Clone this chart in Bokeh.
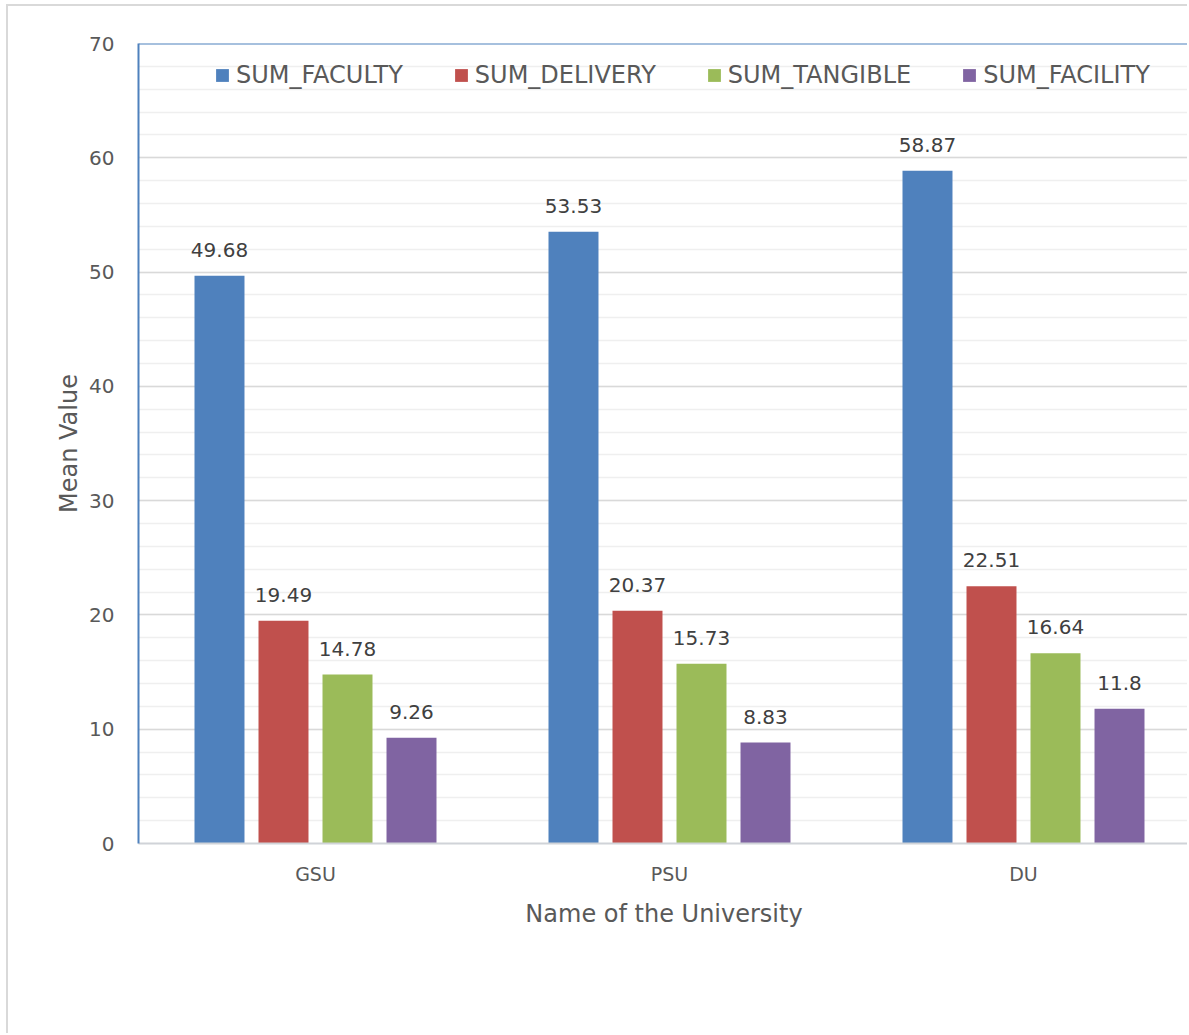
import numpy as np
from bokeh.plotting import figure
from bokeh.models import (Range1d, FixedTicker, SingleIntervalTicker, Span, Legend,
                          LegendItem, ColumnDataSource)
from bokeh.embed import file_html
from bokeh.resources import INLINE

universities = ["GSU", "PSU", "DU"]
series_names = ["SUM_FACULTY", "SUM_DELIVERY", "SUM_TANGIBLE", "SUM_FACILITY"]
sum_faculty = [49.68, 53.53, 58.87]
sum_delivery = [19.49, 20.37, 22.51]
sum_tangible = [14.78, 15.73, 16.64]
sum_facility = [9.26, 8.83, 11.8]
series_values = [sum_faculty, sum_delivery, sum_tangible, sum_facility]
colors = ["#4f81bd", "#c0504d", "#9bbb59", "#8064a2"]

FONT = "DejaVu Sans"
TXT = "#595959"

W, H = 1181, 1029
p = figure(width=W, height=H, output_backend="svg", toolbar_location=None,
           x_range=Range1d(0, 1051 / 354), y_range=Range1d(0, 70))
p.min_border = 0
p.min_border_left = 130
p.min_border_top = 37
p.min_border_bottom = 192
p.min_border_right = 0
p.outline_line_color = None
p.background_fill_color = "white"
p.border_fill_color = "white"
p.styles = {"border-top": "2px solid #d9d9d9", "border-left": "2px solid #d9d9d9",
            "margin-left": "6px", "margin-top": "4px"}

centers = np.arange(len(universities)) + 0.5
offsets = [-0.2712, -0.0904, 0.0904, 0.2712]
bar_w = 0.1412

items = []
for name, vals, col, off in zip(series_names, series_values, colors, offsets):
    src = ColumnDataSource(dict(x=centers + off, top=vals,
                                lab=[("%g" % v) for v in vals]))
    r = p.vbar(x="x", top="top", width=bar_w, source=src, fill_color=col,
               line_color=None)
    p.text(x="x", y="top", text="lab", source=src, text_align="center",
           text_baseline="alphabetic", y_offset=-26, text_font_size="20px",
           text_color="#404040", text_font={"value": FONT})
    items.append(LegendItem(label=name, renderers=[r]))

legend = Legend(items=items, orientation="horizontal", location=(76, 754),
                glyph_width=16, glyph_height=16, label_standoff=6, spacing=50,
                padding=0, margin=0, border_line_color=None,
                background_fill_alpha=0, label_text_font_size="24px",
                label_text_color=TXT, label_text_font=FONT)
p.add_layout(legend, "center")

# axes
p.xaxis.ticker = FixedTicker(ticks=list(centers))
p.xaxis.major_label_overrides = {float(c): u for c, u in zip(centers, universities)}
p.xaxis.major_tick_line_color = None
p.xaxis.minor_tick_line_color = None
p.xaxis.major_tick_out = 0
p.xaxis.major_tick_in = 0
p.xaxis.axis_line_color = "#d0d3d8"
p.xaxis.axis_line_width = 2
p.xaxis.major_label_standoff = 19
p.xaxis.major_label_text_font_size = "19px"
p.xaxis.major_label_text_color = TXT
p.xaxis.major_label_text_font = FONT
p.xaxis.axis_label = "Name of the University"
p.xaxis.axis_label_text_font_size = "24px"
p.xaxis.axis_label_text_font_style = "normal"
p.xaxis.axis_label_text_color = TXT
p.xaxis.axis_label_text_font = FONT
p.xaxis.axis_label_standoff = 12

p.yaxis.ticker = SingleIntervalTicker(interval=10, num_minor_ticks=5)
p.yaxis.major_tick_line_color = None
p.yaxis.minor_tick_line_color = None
p.yaxis.major_tick_out = 0
p.yaxis.major_tick_in = 0
p.yaxis.axis_line_color = "#4f81bd"
p.yaxis.axis_line_width = 2
p.yaxis.major_label_standoff = 20
p.yaxis.major_label_text_font_size = "20px"
p.yaxis.major_label_text_color = TXT
p.yaxis.major_label_text_font = FONT
p.yaxis.axis_label = "Mean Value"
p.yaxis.axis_label_text_font_size = "24px"
p.yaxis.axis_label_text_font_style = "normal"
p.yaxis.axis_label_text_color = TXT
p.yaxis.axis_label_text_font = FONT
p.yaxis.axis_label_standoff = 3

p.xgrid.grid_line_color = None
p.ygrid.ticker = SingleIntervalTicker(interval=10, num_minor_ticks=5)
p.ygrid.grid_line_color = "#d9d9d9"
p.ygrid.minor_grid_line_color = "#efefef"
p.ygrid.grid_line_width = 1.5
p.ygrid.minor_grid_line_width = 1.5

p.add_layout(Span(location=70, dimension="width", line_color="#4f81bd", line_width=2))

open("out.html", "w").write(file_html(p, INLINE))
